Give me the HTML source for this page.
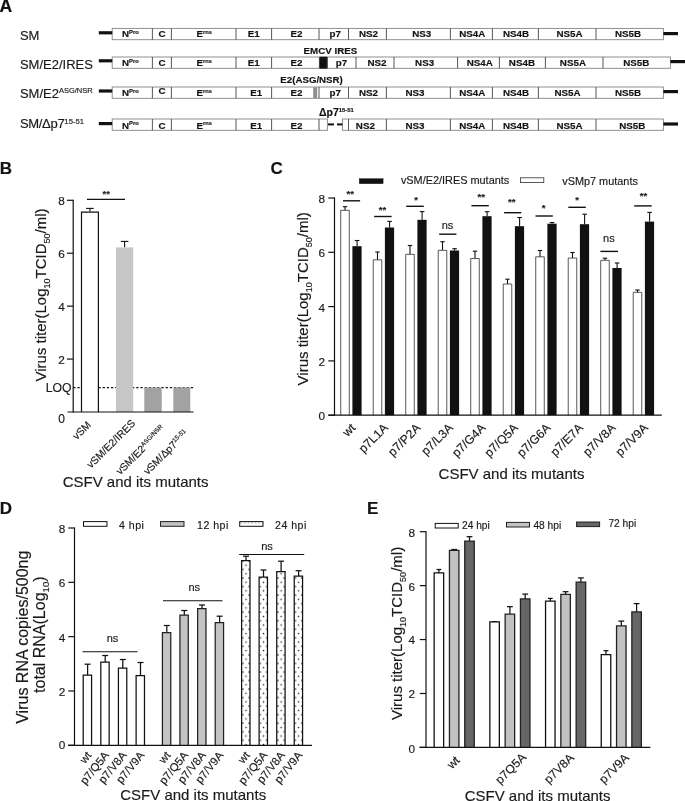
<!DOCTYPE html>
<html lang="en">
<head>
<meta charset="utf-8">
<title>CSFV p7 mutants figure</title>
<style>
html,body{margin:0;padding:0;background:#fff;}
body{width:685px;height:801px;overflow:hidden;}
svg{display:block;font-family:"Liberation Sans", Arial, Helvetica, sans-serif;}
svg text{white-space:pre;stroke:#1a1a1a;stroke-width:0.16px;}
</style>
</head>
<body>
<svg width="685" height="801" viewBox="0 0 685 801">
<rect x="0" y="0" width="685" height="801" fill="#ffffff"/>
<text x="-0.5" y="12.1" font-size="17.6" text-anchor="start" font-weight="bold" fill="#111" >A</text>
<text x="19.9" y="39.9" font-size="13" text-anchor="start" font-weight="normal" fill="#1a1a1a" >SM</text>
<text x="19.9" y="68.9" font-size="13" text-anchor="start" font-weight="normal" fill="#1a1a1a" >SM/E2/IRES</text>
<text x="19.9" y="98" font-size="13" text-anchor="start" font-weight="normal" fill="#1a1a1a" >SM/E2<tspan font-size="7.5" dy="-5">ASG/NSR</tspan><tspan dy="5">&#8203;</tspan></text>
<text x="19.9" y="128.4" font-size="13" text-anchor="start" font-weight="normal" fill="#1a1a1a" ><tspan letter-spacing="-0.3">SM/&#916;p7</tspan><tspan font-size="7.7" dy="-4.6">15-51</tspan><tspan dy="4.6">&#8203;</tspan></text>
<rect x="112.2" y="28.4" width="551.2" height="11.3" fill="#fff" stroke="#848484" stroke-width="0.9" />
<line x1="152.4" y1="28.4" x2="152.4" y2="39.7" stroke="#444" stroke-width="0.9" />
<line x1="171.4" y1="28.4" x2="171.4" y2="39.7" stroke="#444" stroke-width="0.9" />
<line x1="236" y1="28.4" x2="236" y2="39.7" stroke="#444" stroke-width="0.9" />
<line x1="271.6" y1="28.4" x2="271.6" y2="39.7" stroke="#444" stroke-width="0.9" />
<line x1="319" y1="28.4" x2="319" y2="39.7" stroke="#444" stroke-width="0.9" />
<line x1="348.5" y1="28.4" x2="348.5" y2="39.7" stroke="#444" stroke-width="0.9" />
<line x1="386.4" y1="28.4" x2="386.4" y2="39.7" stroke="#444" stroke-width="0.9" />
<line x1="450.4" y1="28.4" x2="450.4" y2="39.7" stroke="#444" stroke-width="0.9" />
<line x1="492.4" y1="28.4" x2="492.4" y2="39.7" stroke="#444" stroke-width="0.9" />
<line x1="538.4" y1="28.4" x2="538.4" y2="39.7" stroke="#444" stroke-width="0.9" />
<line x1="596" y1="28.4" x2="596" y2="39.7" stroke="#444" stroke-width="0.9" />
<text x="130.4" y="36.9" font-size="9.8" text-anchor="middle" font-weight="bold" fill="#111" stroke="#111" stroke-width="0.22">N<tspan font-size="5.8" dy="-3.3">Pro</tspan><tspan dy="3.3">&#8203;</tspan></text>
<text x="162" y="36.9" font-size="9.8" text-anchor="middle" font-weight="bold" fill="#111" stroke="#111" stroke-width="0.22">C</text>
<text x="204.2" y="36.9" font-size="9.8" text-anchor="middle" font-weight="bold" fill="#111" stroke="#111" stroke-width="0.22">E<tspan font-size="5.8" dy="-3.3">rns</tspan><tspan dy="3.3">&#8203;</tspan></text>
<text x="253.7" y="36.9" font-size="9.8" text-anchor="middle" font-weight="bold" fill="#111" stroke="#111" stroke-width="0.22">E1</text>
<text x="296.5" y="36.9" font-size="9.8" text-anchor="middle" font-weight="bold" fill="#111" stroke="#111" stroke-width="0.22">E2</text>
<text x="335.2" y="36.9" font-size="9.8" text-anchor="middle" font-weight="bold" fill="#111" stroke="#111" stroke-width="0.22">p7</text>
<text x="368.5" y="36.9" font-size="9.8" text-anchor="middle" font-weight="bold" fill="#111" stroke="#111" stroke-width="0.22">NS2</text>
<text x="421.7" y="36.9" font-size="9.8" text-anchor="middle" font-weight="bold" fill="#111" stroke="#111" stroke-width="0.22">NS3</text>
<text x="472.3" y="36.9" font-size="9.8" text-anchor="middle" font-weight="bold" fill="#111" stroke="#111" stroke-width="0.22">NS4A</text>
<text x="516" y="36.9" font-size="9.8" text-anchor="middle" font-weight="bold" fill="#111" stroke="#111" stroke-width="0.22">NS4B</text>
<text x="569.5" y="36.9" font-size="9.8" text-anchor="middle" font-weight="bold" fill="#111" stroke="#111" stroke-width="0.22">NS5A</text>
<text x="628" y="36.9" font-size="9.8" text-anchor="middle" font-weight="bold" fill="#111" stroke="#111" stroke-width="0.22">NS5B</text>
<line x1="98.8" y1="32.8" x2="112.2" y2="32.8" stroke="#111" stroke-width="3.2" />
<line x1="663.4" y1="33.6" x2="678" y2="33.6" stroke="#111" stroke-width="3.2" />
<rect x="112.2" y="57" width="558.2" height="11.3" fill="#fff" stroke="#848484" stroke-width="0.9" />
<line x1="152.4" y1="57" x2="152.4" y2="68.3" stroke="#444" stroke-width="0.9" />
<line x1="171.4" y1="57" x2="171.4" y2="68.3" stroke="#444" stroke-width="0.9" />
<line x1="236" y1="57" x2="236" y2="68.3" stroke="#444" stroke-width="0.9" />
<line x1="271.6" y1="57" x2="271.6" y2="68.3" stroke="#444" stroke-width="0.9" />
<line x1="319.4" y1="57" x2="319.4" y2="68.3" stroke="#444" stroke-width="0.9" />
<line x1="327.4" y1="57" x2="327.4" y2="68.3" stroke="#444" stroke-width="0.9" />
<line x1="356" y1="57" x2="356" y2="68.3" stroke="#444" stroke-width="0.9" />
<line x1="394" y1="57" x2="394" y2="68.3" stroke="#444" stroke-width="0.9" />
<line x1="457.6" y1="57" x2="457.6" y2="68.3" stroke="#444" stroke-width="0.9" />
<line x1="499.4" y1="57" x2="499.4" y2="68.3" stroke="#444" stroke-width="0.9" />
<line x1="545.4" y1="57" x2="545.4" y2="68.3" stroke="#444" stroke-width="0.9" />
<line x1="603" y1="57" x2="603" y2="68.3" stroke="#444" stroke-width="0.9" />
<text x="130.4" y="65.9" font-size="9.8" text-anchor="middle" font-weight="bold" fill="#111" stroke="#111" stroke-width="0.22">N<tspan font-size="5.8" dy="-3.3">Pro</tspan><tspan dy="3.3">&#8203;</tspan></text>
<text x="162" y="65.9" font-size="9.8" text-anchor="middle" font-weight="bold" fill="#111" stroke="#111" stroke-width="0.22">C</text>
<text x="204.2" y="65.9" font-size="9.8" text-anchor="middle" font-weight="bold" fill="#111" stroke="#111" stroke-width="0.22">E<tspan font-size="5.8" dy="-3.3">rns</tspan><tspan dy="3.3">&#8203;</tspan></text>
<text x="253.7" y="65.9" font-size="9.8" text-anchor="middle" font-weight="bold" fill="#111" stroke="#111" stroke-width="0.22">E1</text>
<text x="296.5" y="65.9" font-size="9.8" text-anchor="middle" font-weight="bold" fill="#111" stroke="#111" stroke-width="0.22">E2</text>
<text x="341.5" y="65.9" font-size="9.8" text-anchor="middle" font-weight="bold" fill="#111" stroke="#111" stroke-width="0.22">p7</text>
<text x="377" y="65.9" font-size="9.8" text-anchor="middle" font-weight="bold" fill="#111" stroke="#111" stroke-width="0.22">NS2</text>
<text x="424.6" y="65.9" font-size="9.8" text-anchor="middle" font-weight="bold" fill="#111" stroke="#111" stroke-width="0.22">NS3</text>
<text x="479.7" y="65.9" font-size="9.8" text-anchor="middle" font-weight="bold" fill="#111" stroke="#111" stroke-width="0.22">NS4A</text>
<text x="521.9" y="65.9" font-size="9.8" text-anchor="middle" font-weight="bold" fill="#111" stroke="#111" stroke-width="0.22">NS4B</text>
<text x="572.9" y="65.9" font-size="9.8" text-anchor="middle" font-weight="bold" fill="#111" stroke="#111" stroke-width="0.22">NS5A</text>
<text x="636.3" y="65.9" font-size="9.8" text-anchor="middle" font-weight="bold" fill="#111" stroke="#111" stroke-width="0.22">NS5B</text>
<line x1="98.8" y1="60.8" x2="112.2" y2="60.8" stroke="#111" stroke-width="3.2" />
<line x1="670.4" y1="61.6" x2="685" y2="61.6" stroke="#111" stroke-width="3.2" />
<rect x="319.9" y="57" width="7" height="11.3" fill="#111" stroke="#111" stroke-width="0.5" />
<text x="330.4" y="53.6" font-size="9.75" text-anchor="middle" font-weight="bold" fill="#111" stroke="#111" stroke-width="0.22">EMCV IRES</text>
<rect x="112.2" y="87" width="551.2" height="11.3" fill="#fff" stroke="#848484" stroke-width="0.9" />
<line x1="152.4" y1="87" x2="152.4" y2="98.3" stroke="#444" stroke-width="0.9" />
<line x1="171.4" y1="87" x2="171.4" y2="98.3" stroke="#444" stroke-width="0.9" />
<line x1="236" y1="87" x2="236" y2="98.3" stroke="#444" stroke-width="0.9" />
<line x1="271.6" y1="87" x2="271.6" y2="98.3" stroke="#444" stroke-width="0.9" />
<line x1="319" y1="87" x2="319" y2="98.3" stroke="#444" stroke-width="0.9" />
<line x1="348.5" y1="87" x2="348.5" y2="98.3" stroke="#444" stroke-width="0.9" />
<line x1="386.4" y1="87" x2="386.4" y2="98.3" stroke="#444" stroke-width="0.9" />
<line x1="450.4" y1="87" x2="450.4" y2="98.3" stroke="#444" stroke-width="0.9" />
<line x1="492.4" y1="87" x2="492.4" y2="98.3" stroke="#444" stroke-width="0.9" />
<line x1="538.4" y1="87" x2="538.4" y2="98.3" stroke="#444" stroke-width="0.9" />
<line x1="596" y1="87" x2="596" y2="98.3" stroke="#444" stroke-width="0.9" />
<text x="130.4" y="95.9" font-size="9.8" text-anchor="middle" font-weight="bold" fill="#111" stroke="#111" stroke-width="0.22">N<tspan font-size="5.8" dy="-3.3">Pro</tspan><tspan dy="3.3">&#8203;</tspan></text>
<text x="162" y="93.9" font-size="9.8" text-anchor="middle" font-weight="bold" fill="#111" stroke="#111" stroke-width="0.22">C</text>
<text x="204.2" y="95.9" font-size="9.8" text-anchor="middle" font-weight="bold" fill="#111" stroke="#111" stroke-width="0.22">E<tspan font-size="5.8" dy="-3.3">rns</tspan><tspan dy="3.3">&#8203;</tspan></text>
<text x="256.2" y="95.9" font-size="9.8" text-anchor="middle" font-weight="bold" fill="#111" stroke="#111" stroke-width="0.22">E1</text>
<text x="296.5" y="95.9" font-size="9.8" text-anchor="middle" font-weight="bold" fill="#111" stroke="#111" stroke-width="0.22">E2</text>
<text x="335.2" y="95.9" font-size="9.8" text-anchor="middle" font-weight="bold" fill="#111" stroke="#111" stroke-width="0.22">p7</text>
<text x="368.5" y="95.9" font-size="9.8" text-anchor="middle" font-weight="bold" fill="#111" stroke="#111" stroke-width="0.22">NS2</text>
<text x="415" y="95.9" font-size="9.8" text-anchor="middle" font-weight="bold" fill="#111" stroke="#111" stroke-width="0.22">NS3</text>
<text x="472.3" y="95.9" font-size="9.8" text-anchor="middle" font-weight="bold" fill="#111" stroke="#111" stroke-width="0.22">NS4A</text>
<text x="516" y="95.9" font-size="9.8" text-anchor="middle" font-weight="bold" fill="#111" stroke="#111" stroke-width="0.22">NS4B</text>
<text x="567.5" y="95.9" font-size="9.8" text-anchor="middle" font-weight="bold" fill="#111" stroke="#111" stroke-width="0.22">NS5A</text>
<text x="628" y="95.9" font-size="9.8" text-anchor="middle" font-weight="bold" fill="#111" stroke="#111" stroke-width="0.22">NS5B</text>
<line x1="98.8" y1="91" x2="112.2" y2="91" stroke="#111" stroke-width="3.2" />
<line x1="663.4" y1="91.6" x2="678" y2="91.6" stroke="#111" stroke-width="3.2" />
<rect x="313.2" y="87.3" width="4" height="10.7" fill="#8e8e8e" stroke="none" stroke-width="0" />
<text x="311.6" y="82.9" font-size="9.7" text-anchor="middle" font-weight="bold" fill="#111" stroke="#111" stroke-width="0.22">E2(ASG/NSR)</text>
<rect x="112.2" y="119" width="215.2" height="11.3" fill="#fff" stroke="#848484" stroke-width="0.9" />
<line x1="152.4" y1="119" x2="152.4" y2="130.3" stroke="#444" stroke-width="0.9" />
<line x1="171.4" y1="119" x2="171.4" y2="130.3" stroke="#444" stroke-width="0.9" />
<line x1="236" y1="119" x2="236" y2="130.3" stroke="#444" stroke-width="0.9" />
<line x1="271.6" y1="119" x2="271.6" y2="130.3" stroke="#444" stroke-width="0.9" />
<line x1="319" y1="119" x2="319" y2="130.3" stroke="#444" stroke-width="0.9" />
<rect x="342.4" y="119" width="321" height="11.3" fill="#fff" stroke="#848484" stroke-width="0.9" />
<line x1="348.5" y1="119" x2="348.5" y2="130.3" stroke="#444" stroke-width="0.9" />
<line x1="386.4" y1="119" x2="386.4" y2="130.3" stroke="#444" stroke-width="0.9" />
<line x1="450.4" y1="119" x2="450.4" y2="130.3" stroke="#444" stroke-width="0.9" />
<line x1="492.4" y1="119" x2="492.4" y2="130.3" stroke="#444" stroke-width="0.9" />
<line x1="538.4" y1="119" x2="538.4" y2="130.3" stroke="#444" stroke-width="0.9" />
<line x1="596" y1="119" x2="596" y2="130.3" stroke="#444" stroke-width="0.9" />
<text x="130.4" y="128.5" font-size="9.8" text-anchor="middle" font-weight="bold" fill="#111" stroke="#111" stroke-width="0.22">N<tspan font-size="5.8" dy="-3.3">Pro</tspan><tspan dy="3.3">&#8203;</tspan></text>
<text x="162" y="128.5" font-size="9.8" text-anchor="middle" font-weight="bold" fill="#111" stroke="#111" stroke-width="0.22">C</text>
<text x="204.2" y="128.5" font-size="9.8" text-anchor="middle" font-weight="bold" fill="#111" stroke="#111" stroke-width="0.22">E<tspan font-size="5.8" dy="-3.3">rns</tspan><tspan dy="3.3">&#8203;</tspan></text>
<text x="256.2" y="128.5" font-size="9.8" text-anchor="middle" font-weight="bold" fill="#111" stroke="#111" stroke-width="0.22">E1</text>
<text x="296.5" y="128.5" font-size="9.8" text-anchor="middle" font-weight="bold" fill="#111" stroke="#111" stroke-width="0.22">E2</text>
<text x="365.4" y="128.5" font-size="9.8" text-anchor="middle" font-weight="bold" fill="#111" stroke="#111" stroke-width="0.22">NS2</text>
<text x="415" y="128.5" font-size="9.8" text-anchor="middle" font-weight="bold" fill="#111" stroke="#111" stroke-width="0.22">NS3</text>
<text x="472.3" y="128.5" font-size="9.8" text-anchor="middle" font-weight="bold" fill="#111" stroke="#111" stroke-width="0.22">NS4A</text>
<text x="516" y="128.5" font-size="9.8" text-anchor="middle" font-weight="bold" fill="#111" stroke="#111" stroke-width="0.22">NS4B</text>
<text x="569.5" y="128.5" font-size="9.8" text-anchor="middle" font-weight="bold" fill="#111" stroke="#111" stroke-width="0.22">NS5A</text>
<text x="632.3" y="128.5" font-size="9.8" text-anchor="middle" font-weight="bold" fill="#111" stroke="#111" stroke-width="0.22">NS5B</text>
<line x1="98.8" y1="123.6" x2="112.2" y2="123.6" stroke="#111" stroke-width="3.2" />
<line x1="663.4" y1="124" x2="678" y2="124" stroke="#111" stroke-width="3.2" />
<line x1="328" y1="124.4" x2="334" y2="124.4" stroke="#111" stroke-width="2" />
<line x1="337" y1="124.4" x2="342.4" y2="124.4" stroke="#111" stroke-width="2" />
<text x="319" y="115.7" font-size="10.5" text-anchor="start" font-weight="bold" fill="#111" stroke="#111" stroke-width="0.22">&#916;p7<tspan font-size="5.9" dy="-3.7">15-51</tspan><tspan dy="3.7">&#8203;</tspan></text>
<text x="-0.3" y="174" font-size="17" text-anchor="start" font-weight="bold" fill="#111" >B</text>
<line x1="73.2" y1="387.6" x2="194" y2="387.6" stroke="#111" stroke-width="1.1" stroke-dasharray="2.3 1.9"/>
<line x1="89.95" y1="211.5" x2="89.95" y2="208.4" stroke="#111" stroke-width="1.1" />
<line x1="86.15" y1="208.4" x2="93.75" y2="208.4" stroke="#111" stroke-width="1.1" />
<rect x="81.5" y="212.1" width="16.9" height="199.9" fill="#fff" stroke="none" stroke-width="0" />
<path d="M81.5 412V212.1H98.4V412" fill="none" stroke="#111" stroke-width="1.2"/>
<line x1="124.6" y1="247.4" x2="124.6" y2="241.4" stroke="#111" stroke-width="1.1" />
<line x1="120.8" y1="241.4" x2="128.4" y2="241.4" stroke="#111" stroke-width="1.1" />
<rect x="116" y="247.4" width="17.2" height="164.6" fill="#c6c6c6" stroke="none" stroke-width="0" />
<rect x="144.3" y="387.4" width="17.4" height="24.6" fill="#a2a2a2" stroke="none" stroke-width="0" />
<rect x="173.3" y="387.4" width="17" height="24.6" fill="#a2a2a2" stroke="none" stroke-width="0" />
<line x1="67.5" y1="412" x2="193.6" y2="412" stroke="#111" stroke-width="1.2" />
<line x1="73.2" y1="199.7" x2="73.2" y2="412.6" stroke="#111" stroke-width="1.2" />
<line x1="67" y1="359.07" x2="73.2" y2="359.07" stroke="#111" stroke-width="1.2" />
<text x="64.9" y="363.97" font-size="11.8" text-anchor="end" font-weight="normal" fill="#1a1a1a" >2</text>
<line x1="67" y1="306.15" x2="73.2" y2="306.15" stroke="#111" stroke-width="1.2" />
<text x="64.9" y="311.05" font-size="11.8" text-anchor="end" font-weight="normal" fill="#1a1a1a" >4</text>
<line x1="67" y1="253.23" x2="73.2" y2="253.23" stroke="#111" stroke-width="1.2" />
<text x="64.9" y="258.12" font-size="11.8" text-anchor="end" font-weight="normal" fill="#1a1a1a" >6</text>
<line x1="67" y1="200.3" x2="73.2" y2="200.3" stroke="#111" stroke-width="1.2" />
<text x="64.9" y="205.2" font-size="11.8" text-anchor="end" font-weight="normal" fill="#1a1a1a" >8</text>
<text x="64.9" y="422.8" font-size="12" text-anchor="end" font-weight="normal" fill="#1a1a1a" >0</text>
<text x="71.4" y="392" font-size="12.2" text-anchor="end" font-weight="normal" fill="#1a1a1a" >LOQ</text>
<text x="45.8" y="381.6" font-size="15" text-anchor="start" font-weight="normal" fill="#1a1a1a" transform="rotate(-90 45.8 381.6)" >Virus titer(Log<tspan font-size="9" dy="4">10</tspan><tspan dy="-4">&#8203;</tspan>TCID<tspan font-size="9" dy="4">50</tspan><tspan dy="-4">&#8203;</tspan>/ml)</text>
<line x1="87" y1="199.4" x2="125" y2="199.4" stroke="#111" stroke-width="1.1" />
<text x="106.2" y="196.6" font-size="9.4" text-anchor="middle" font-weight="bold" fill="#1a1a1a" >**</text>
<text x="91.5" y="425.6" font-size="10.4" text-anchor="end" font-weight="normal" fill="#1a1a1a" transform="rotate(-45 91.5 425.6)" >vSM</text>
<text x="136" y="423.9" font-size="10.4" text-anchor="end" font-weight="normal" fill="#1a1a1a" transform="rotate(-45 136 423.9)" >vSM/E2/IRES</text>
<text x="166" y="429.6" font-size="10.4" text-anchor="end" font-weight="normal" fill="#1a1a1a" transform="rotate(-45 166 429.6)" >vSM/E2<tspan font-size="6.3" dy="-3.8">ASG/NSR</tspan><tspan dy="3.8">&#8203;</tspan></text>
<text x="188.9" y="434.1" font-size="10.4" text-anchor="end" font-weight="normal" fill="#1a1a1a" transform="rotate(-45 188.9 434.1)" >vSM/&#916;p7<tspan font-size="6.3" dy="-3.8">15-51</tspan><tspan dy="3.8">&#8203;</tspan></text>
<text x="135.6" y="487" font-size="15" text-anchor="middle" font-weight="normal" fill="#1a1a1a" >CSFV and its mutants</text>
<text x="270.6" y="174" font-size="17" text-anchor="start" font-weight="bold" fill="#111" >C</text>
<rect x="359.3" y="178.7" width="23.8" height="5" fill="#111" stroke="#111" stroke-width="0.4" />
<text x="400.9" y="184.2" font-size="10.9" text-anchor="start" font-weight="normal" fill="#1a1a1a" >vSM/E2/IRES mutants</text>
<rect x="520.6" y="177.8" width="23.2" height="4.8" fill="#fff" stroke="#333" stroke-width="0.8" />
<text x="562.2" y="185" font-size="10.9" text-anchor="start" font-weight="normal" fill="#1a1a1a" >vSMp7 mutants</text>
<line x1="345" y1="210.5" x2="345" y2="206.7" stroke="#111" stroke-width="1.1" />
<line x1="342.8" y1="206.7" x2="347.2" y2="206.7" stroke="#111" stroke-width="1.1" />
<line x1="357.1" y1="246.2" x2="357.1" y2="240.5" stroke="#111" stroke-width="1.1" />
<line x1="354.8" y1="240.5" x2="359.4" y2="240.5" stroke="#111" stroke-width="1.1" />
<rect x="340.73" y="210.33" width="8.55" height="204.87" fill="#fff" stroke="none" stroke-width="0" />
<path d="M340.73 415.2V210.33H349.27V415.2" fill="none" stroke="#3a3a3a" stroke-width="0.85"/>
<rect x="352.4" y="246.2" width="9.2" height="169" fill="#111" stroke="none" stroke-width="0" />
<line x1="343" y1="200.8" x2="360.1" y2="200.8" stroke="#111" stroke-width="1.4" />
<text x="350.3" y="196.6" font-size="9.6" text-anchor="middle" font-weight="bold" fill="#1a1a1a" >**</text>
<text x="356.2" y="428.6" font-size="12.2" text-anchor="end" font-weight="normal" fill="#1a1a1a" transform="rotate(-45 356.2 428.6)" >wt</text>
<line x1="377.5" y1="260" x2="377.5" y2="252" stroke="#111" stroke-width="1.1" />
<line x1="375.3" y1="252" x2="379.7" y2="252" stroke="#111" stroke-width="1.1" />
<line x1="389.6" y1="227.5" x2="389.6" y2="221.4" stroke="#111" stroke-width="1.1" />
<line x1="387.3" y1="221.4" x2="391.9" y2="221.4" stroke="#111" stroke-width="1.1" />
<rect x="373.23" y="259.82" width="8.55" height="155.38" fill="#fff" stroke="none" stroke-width="0" />
<path d="M373.23 415.2V259.82H381.77V415.2" fill="none" stroke="#3a3a3a" stroke-width="0.85"/>
<rect x="384.9" y="227.5" width="9.2" height="187.7" fill="#111" stroke="none" stroke-width="0" />
<line x1="374.1" y1="216.5" x2="391.6" y2="216.5" stroke="#111" stroke-width="1.4" />
<text x="382.4" y="213.4" font-size="9.6" text-anchor="middle" font-weight="bold" fill="#1a1a1a" >**</text>
<text x="388.7" y="428.6" font-size="12.2" text-anchor="end" font-weight="normal" fill="#1a1a1a" transform="rotate(-45 388.7 428.6)" >p7L1A</text>
<line x1="410" y1="254.5" x2="410" y2="245.5" stroke="#111" stroke-width="1.1" />
<line x1="407.8" y1="245.5" x2="412.2" y2="245.5" stroke="#111" stroke-width="1.1" />
<line x1="422.1" y1="219.8" x2="422.1" y2="211.6" stroke="#111" stroke-width="1.1" />
<line x1="419.8" y1="211.6" x2="424.4" y2="211.6" stroke="#111" stroke-width="1.1" />
<rect x="405.73" y="254.33" width="8.55" height="160.87" fill="#fff" stroke="none" stroke-width="0" />
<path d="M405.73 415.2V254.33H414.27V415.2" fill="none" stroke="#3a3a3a" stroke-width="0.85"/>
<rect x="417.4" y="219.8" width="9.2" height="195.4" fill="#111" stroke="none" stroke-width="0" />
<line x1="406.2" y1="206.3" x2="423.8" y2="206.3" stroke="#111" stroke-width="1.4" />
<text x="416" y="202.5" font-size="9.6" text-anchor="middle" font-weight="bold" fill="#1a1a1a" >*</text>
<text x="421.2" y="428.6" font-size="12.2" text-anchor="end" font-weight="normal" fill="#1a1a1a" transform="rotate(-45 421.2 428.6)" >p7/P2A</text>
<line x1="442.5" y1="250.5" x2="442.5" y2="241.7" stroke="#111" stroke-width="1.1" />
<line x1="440.3" y1="241.7" x2="444.7" y2="241.7" stroke="#111" stroke-width="1.1" />
<line x1="454.6" y1="250.5" x2="454.6" y2="248.7" stroke="#111" stroke-width="1.1" />
<line x1="452.3" y1="248.7" x2="456.9" y2="248.7" stroke="#111" stroke-width="1.1" />
<rect x="438.23" y="250.33" width="8.55" height="164.87" fill="#fff" stroke="none" stroke-width="0" />
<path d="M438.23 415.2V250.33H446.77V415.2" fill="none" stroke="#3a3a3a" stroke-width="0.85"/>
<rect x="449.9" y="250.5" width="9.2" height="164.7" fill="#111" stroke="none" stroke-width="0" />
<line x1="439.2" y1="234.2" x2="456.4" y2="234.2" stroke="#111" stroke-width="1.4" />
<text x="447.5" y="229.2" font-size="11" text-anchor="middle" font-weight="normal" fill="#1a1a1a" >ns</text>
<text x="453.7" y="428.6" font-size="12.2" text-anchor="end" font-weight="normal" fill="#1a1a1a" transform="rotate(-45 453.7 428.6)" >p7/L3A</text>
<line x1="475" y1="258.7" x2="475" y2="251.2" stroke="#111" stroke-width="1.1" />
<line x1="472.8" y1="251.2" x2="477.2" y2="251.2" stroke="#111" stroke-width="1.1" />
<line x1="487.1" y1="216.2" x2="487.1" y2="211.7" stroke="#111" stroke-width="1.1" />
<line x1="484.8" y1="211.7" x2="489.4" y2="211.7" stroke="#111" stroke-width="1.1" />
<rect x="470.73" y="258.52" width="8.55" height="156.68" fill="#fff" stroke="none" stroke-width="0" />
<path d="M470.73 415.2V258.52H479.27V415.2" fill="none" stroke="#3a3a3a" stroke-width="0.85"/>
<rect x="482.4" y="216.2" width="9.2" height="199" fill="#111" stroke="none" stroke-width="0" />
<line x1="471.4" y1="205.7" x2="488.8" y2="205.7" stroke="#111" stroke-width="1.4" />
<text x="481.2" y="200" font-size="9.6" text-anchor="middle" font-weight="bold" fill="#1a1a1a" >**</text>
<text x="486.2" y="428.6" font-size="12.2" text-anchor="end" font-weight="normal" fill="#1a1a1a" transform="rotate(-45 486.2 428.6)" >p7/G4A</text>
<line x1="507.5" y1="284.2" x2="507.5" y2="279.2" stroke="#111" stroke-width="1.1" />
<line x1="505.3" y1="279.2" x2="509.7" y2="279.2" stroke="#111" stroke-width="1.1" />
<line x1="519.6" y1="226.2" x2="519.6" y2="217.5" stroke="#111" stroke-width="1.1" />
<line x1="517.3" y1="217.5" x2="521.9" y2="217.5" stroke="#111" stroke-width="1.1" />
<rect x="503.23" y="284.02" width="8.55" height="131.18" fill="#fff" stroke="none" stroke-width="0" />
<path d="M503.23 415.2V284.02H511.78V415.2" fill="none" stroke="#3a3a3a" stroke-width="0.85"/>
<rect x="514.9" y="226.2" width="9.2" height="189" fill="#111" stroke="none" stroke-width="0" />
<line x1="504.1" y1="212.7" x2="521.3" y2="212.7" stroke="#111" stroke-width="1.4" />
<text x="511.8" y="205.1" font-size="9.6" text-anchor="middle" font-weight="bold" fill="#1a1a1a" >**</text>
<text x="518.7" y="428.6" font-size="12.2" text-anchor="end" font-weight="normal" fill="#1a1a1a" transform="rotate(-45 518.7 428.6)" >p7/Q5A</text>
<line x1="540" y1="257" x2="540" y2="250.5" stroke="#111" stroke-width="1.1" />
<line x1="537.8" y1="250.5" x2="542.2" y2="250.5" stroke="#111" stroke-width="1.1" />
<line x1="552.1" y1="223.7" x2="552.1" y2="222.5" stroke="#111" stroke-width="1.1" />
<line x1="549.8" y1="222.5" x2="554.4" y2="222.5" stroke="#111" stroke-width="1.1" />
<rect x="535.72" y="256.82" width="8.55" height="158.38" fill="#fff" stroke="none" stroke-width="0" />
<path d="M535.72 415.2V256.82H544.27V415.2" fill="none" stroke="#3a3a3a" stroke-width="0.85"/>
<rect x="547.4" y="223.7" width="9.2" height="191.5" fill="#111" stroke="none" stroke-width="0" />
<line x1="535.5" y1="216" x2="552.8" y2="216" stroke="#111" stroke-width="1.4" />
<text x="543.5" y="210.8" font-size="9.6" text-anchor="middle" font-weight="bold" fill="#1a1a1a" >*</text>
<text x="551.2" y="428.6" font-size="12.2" text-anchor="end" font-weight="normal" fill="#1a1a1a" transform="rotate(-45 551.2 428.6)" >p7/G6A</text>
<line x1="572.5" y1="258.2" x2="572.5" y2="252.5" stroke="#111" stroke-width="1.1" />
<line x1="570.3" y1="252.5" x2="574.7" y2="252.5" stroke="#111" stroke-width="1.1" />
<line x1="584.6" y1="224.2" x2="584.6" y2="214.2" stroke="#111" stroke-width="1.1" />
<line x1="582.3" y1="214.2" x2="586.9" y2="214.2" stroke="#111" stroke-width="1.1" />
<rect x="568.22" y="258.02" width="8.55" height="157.18" fill="#fff" stroke="none" stroke-width="0" />
<path d="M568.22 415.2V258.02H576.77V415.2" fill="none" stroke="#3a3a3a" stroke-width="0.85"/>
<rect x="579.9" y="224.2" width="9.2" height="191" fill="#111" stroke="none" stroke-width="0" />
<line x1="568.3" y1="207.3" x2="585.8" y2="207.3" stroke="#111" stroke-width="1.4" />
<text x="577.1" y="203.2" font-size="9.6" text-anchor="middle" font-weight="bold" fill="#1a1a1a" >*</text>
<text x="583.7" y="428.6" font-size="12.2" text-anchor="end" font-weight="normal" fill="#1a1a1a" transform="rotate(-45 583.7 428.6)" >p7/E7A</text>
<line x1="605" y1="260.5" x2="605" y2="258.2" stroke="#111" stroke-width="1.1" />
<line x1="602.8" y1="258.2" x2="607.2" y2="258.2" stroke="#111" stroke-width="1.1" />
<line x1="617.1" y1="268" x2="617.1" y2="263" stroke="#111" stroke-width="1.1" />
<line x1="614.8" y1="263" x2="619.4" y2="263" stroke="#111" stroke-width="1.1" />
<rect x="600.72" y="260.32" width="8.55" height="154.88" fill="#fff" stroke="none" stroke-width="0" />
<path d="M600.72 415.2V260.32H609.27V415.2" fill="none" stroke="#3a3a3a" stroke-width="0.85"/>
<rect x="612.4" y="268" width="9.2" height="147.2" fill="#111" stroke="none" stroke-width="0" />
<line x1="600.4" y1="251.4" x2="618" y2="251.4" stroke="#111" stroke-width="1.4" />
<text x="608.9" y="241.6" font-size="11" text-anchor="middle" font-weight="normal" fill="#1a1a1a" >ns</text>
<text x="616.2" y="428.6" font-size="12.2" text-anchor="end" font-weight="normal" fill="#1a1a1a" transform="rotate(-45 616.2 428.6)" >p7/V8A</text>
<line x1="637.5" y1="292.5" x2="637.5" y2="290" stroke="#111" stroke-width="1.1" />
<line x1="635.3" y1="290" x2="639.7" y2="290" stroke="#111" stroke-width="1.1" />
<line x1="649.6" y1="221.6" x2="649.6" y2="212.4" stroke="#111" stroke-width="1.1" />
<line x1="647.3" y1="212.4" x2="651.9" y2="212.4" stroke="#111" stroke-width="1.1" />
<rect x="633.22" y="292.32" width="8.55" height="122.88" fill="#fff" stroke="none" stroke-width="0" />
<path d="M633.22 415.2V292.32H641.77V415.2" fill="none" stroke="#3a3a3a" stroke-width="0.85"/>
<rect x="644.9" y="221.6" width="9.2" height="193.6" fill="#111" stroke="none" stroke-width="0" />
<line x1="634.2" y1="205.9" x2="651.7" y2="205.9" stroke="#111" stroke-width="1.4" />
<text x="643.5" y="199.3" font-size="9.6" text-anchor="middle" font-weight="bold" fill="#1a1a1a" >**</text>
<text x="648.7" y="428.6" font-size="12.2" text-anchor="end" font-weight="normal" fill="#1a1a1a" transform="rotate(-45 648.7 428.6)" >p7/V9A</text>
<line x1="328.4" y1="415.2" x2="661.8" y2="415.2" stroke="#111" stroke-width="1.3" />
<line x1="334.5" y1="197.4" x2="334.5" y2="415.8" stroke="#111" stroke-width="1.2" />
<line x1="328.3" y1="415.2" x2="334.5" y2="415.2" stroke="#111" stroke-width="1.2" />
<text x="325" y="419.5" font-size="11.8" text-anchor="end" font-weight="normal" fill="#1a1a1a" >0</text>
<line x1="328.3" y1="360.9" x2="334.5" y2="360.9" stroke="#111" stroke-width="1.2" />
<text x="325" y="365.8" font-size="11.8" text-anchor="end" font-weight="normal" fill="#1a1a1a" >2</text>
<line x1="328.3" y1="306.6" x2="334.5" y2="306.6" stroke="#111" stroke-width="1.2" />
<text x="325" y="311.5" font-size="11.8" text-anchor="end" font-weight="normal" fill="#1a1a1a" >4</text>
<line x1="328.3" y1="252.3" x2="334.5" y2="252.3" stroke="#111" stroke-width="1.2" />
<text x="325" y="257.2" font-size="11.8" text-anchor="end" font-weight="normal" fill="#1a1a1a" >6</text>
<line x1="328.3" y1="198" x2="334.5" y2="198" stroke="#111" stroke-width="1.2" />
<text x="325" y="202.9" font-size="11.8" text-anchor="end" font-weight="normal" fill="#1a1a1a" >8</text>
<text x="307.7" y="385.4" font-size="15" text-anchor="start" font-weight="normal" fill="#1a1a1a" transform="rotate(-90 307.7 385.4)" >Virus titer(Log<tspan font-size="9" dy="4">10</tspan><tspan dy="-4">&#8203;</tspan>TCID<tspan font-size="9" dy="4">50</tspan><tspan dy="-4">&#8203;</tspan>/ml)</text>
<text x="511.5" y="478.9" font-size="15" text-anchor="middle" font-weight="normal" fill="#1a1a1a" >CSFV and its mutants</text>
<text x="-0.3" y="513.9" font-size="17" text-anchor="start" font-weight="bold" fill="#111" >D</text>
<defs><pattern id="dots0" x="242.9" y="560.9" width="6.2" height="8.54" patternUnits="userSpaceOnUse"><rect x="0" y="0" width="6.2" height="8.54" fill="#fff"/><circle cx="0" cy="0" r="0.8" fill="#2a2a2a"/><circle cx="6.2" cy="0" r="0.8" fill="#2a2a2a"/><circle cx="0" cy="8.54" r="0.8" fill="#2a2a2a"/><circle cx="6.2" cy="8.54" r="0.8" fill="#2a2a2a"/><circle cx="3.1" cy="4.27" r="0.8" fill="#2a2a2a"/></pattern><pattern id="dots1" x="260.4" y="560.9" width="6.2" height="8.54" patternUnits="userSpaceOnUse"><rect x="0" y="0" width="6.2" height="8.54" fill="#fff"/><circle cx="0" cy="0" r="0.8" fill="#2a2a2a"/><circle cx="6.2" cy="0" r="0.8" fill="#2a2a2a"/><circle cx="0" cy="8.54" r="0.8" fill="#2a2a2a"/><circle cx="6.2" cy="8.54" r="0.8" fill="#2a2a2a"/><circle cx="3.1" cy="4.27" r="0.8" fill="#2a2a2a"/></pattern><pattern id="dots2" x="278" y="560.9" width="6.2" height="8.54" patternUnits="userSpaceOnUse"><rect x="0" y="0" width="6.2" height="8.54" fill="#fff"/><circle cx="0" cy="0" r="0.8" fill="#2a2a2a"/><circle cx="6.2" cy="0" r="0.8" fill="#2a2a2a"/><circle cx="0" cy="8.54" r="0.8" fill="#2a2a2a"/><circle cx="6.2" cy="8.54" r="0.8" fill="#2a2a2a"/><circle cx="3.1" cy="4.27" r="0.8" fill="#2a2a2a"/></pattern><pattern id="dots3" x="295.5" y="560.9" width="6.2" height="8.54" patternUnits="userSpaceOnUse"><rect x="0" y="0" width="6.2" height="8.54" fill="#fff"/><circle cx="0" cy="0" r="0.8" fill="#2a2a2a"/><circle cx="6.2" cy="0" r="0.8" fill="#2a2a2a"/><circle cx="0" cy="8.54" r="0.8" fill="#2a2a2a"/><circle cx="6.2" cy="8.54" r="0.8" fill="#2a2a2a"/><circle cx="3.1" cy="4.27" r="0.8" fill="#2a2a2a"/></pattern><pattern id="dotsl" x="239.4" y="520.6" width="3.6" height="8" patternUnits="userSpaceOnUse"><rect width="3.6" height="8" fill="#fff"/><circle cx="1.8" cy="2" r="0.55" fill="#2a2a2a"/></pattern></defs>
<rect x="83.5" y="521.6" width="23.5" height="4.7" fill="#fff" stroke="#111" stroke-width="1" />
<text x="119" y="529" font-size="10.6" text-anchor="start" font-weight="normal" fill="#1a1a1a" letter-spacing="0.5">4 hpi</text>
<rect x="160.5" y="521.6" width="23.5" height="4.7" fill="#c2c2c2" stroke="#222" stroke-width="1" />
<text x="197" y="529" font-size="10.6" text-anchor="start" font-weight="normal" fill="#1a1a1a" letter-spacing="0.5">12 hpi</text>
<rect x="239.7" y="521.6" width="23.3" height="4.7" fill="url(#dotsl)" stroke="#111" stroke-width="1" />
<text x="275" y="529" font-size="10.6" text-anchor="start" font-weight="normal" fill="#1a1a1a" letter-spacing="0.5">24 hpi</text>
<line x1="87.6" y1="675" x2="87.6" y2="664.2" stroke="#111" stroke-width="1.25" />
<line x1="84.6" y1="664.2" x2="90.6" y2="664.2" stroke="#111" stroke-width="1.25" />
<rect x="83.22" y="675.02" width="8.35" height="70.27" fill="#fff" stroke="none" stroke-width="0" />
<path d="M83.22 745.3V675.02H91.58V745.3" fill="none" stroke="#111" stroke-width="1.25"/>
<text x="92" y="755.5" font-size="11.3" text-anchor="end" font-weight="normal" fill="#1a1a1a" transform="rotate(-51 92 755.5)" >wt</text>
<line x1="105.2" y1="662" x2="105.2" y2="655.5" stroke="#111" stroke-width="1.25" />
<line x1="102.2" y1="655.5" x2="108.2" y2="655.5" stroke="#111" stroke-width="1.25" />
<rect x="100.82" y="662.02" width="8.35" height="83.27" fill="#fff" stroke="none" stroke-width="0" />
<path d="M100.82 745.3V662.02H109.17V745.3" fill="none" stroke="#111" stroke-width="1.25"/>
<text x="109.6" y="755.5" font-size="11.3" text-anchor="end" font-weight="normal" fill="#1a1a1a" transform="rotate(-51 109.6 755.5)" >p7/Q5A</text>
<line x1="122.8" y1="668.2" x2="122.8" y2="659.5" stroke="#111" stroke-width="1.25" />
<line x1="119.8" y1="659.5" x2="125.8" y2="659.5" stroke="#111" stroke-width="1.25" />
<rect x="118.42" y="668.23" width="8.35" height="77.07" fill="#fff" stroke="none" stroke-width="0" />
<path d="M118.42 745.3V668.23H126.78V745.3" fill="none" stroke="#111" stroke-width="1.25"/>
<text x="127.2" y="755.5" font-size="11.3" text-anchor="end" font-weight="normal" fill="#1a1a1a" transform="rotate(-51 127.2 755.5)" >p7/V8A</text>
<line x1="140.5" y1="675.5" x2="140.5" y2="662.5" stroke="#111" stroke-width="1.25" />
<line x1="137.5" y1="662.5" x2="143.5" y2="662.5" stroke="#111" stroke-width="1.25" />
<rect x="136.12" y="675.52" width="8.35" height="69.77" fill="#fff" stroke="none" stroke-width="0" />
<path d="M136.12 745.3V675.52H144.47V745.3" fill="none" stroke="#111" stroke-width="1.25"/>
<text x="144.9" y="755.5" font-size="11.3" text-anchor="end" font-weight="normal" fill="#1a1a1a" transform="rotate(-51 144.9 755.5)" >p7/V9A</text>
<line x1="82.5" y1="651.7" x2="137.5" y2="651.7" stroke="#111" stroke-width="1.1" />
<text x="112.5" y="641.7" font-size="11" text-anchor="middle" font-weight="normal" fill="#1a1a1a" >ns</text>
<line x1="166.8" y1="632.5" x2="166.8" y2="625.5" stroke="#111" stroke-width="1.25" />
<line x1="163.8" y1="625.5" x2="169.8" y2="625.5" stroke="#111" stroke-width="1.25" />
<rect x="162.42" y="632.52" width="8.35" height="112.77" fill="#c4c4c4" stroke="none" stroke-width="0" />
<path d="M162.42 745.3V632.52H170.77V745.3" fill="none" stroke="#222" stroke-width="1.25"/>
<text x="171.2" y="755.5" font-size="11.3" text-anchor="end" font-weight="normal" fill="#1a1a1a" transform="rotate(-51 171.2 755.5)" >wt</text>
<line x1="184.3" y1="615" x2="184.3" y2="610.5" stroke="#111" stroke-width="1.25" />
<line x1="181.3" y1="610.5" x2="187.3" y2="610.5" stroke="#111" stroke-width="1.25" />
<rect x="179.92" y="615.02" width="8.35" height="130.27" fill="#c4c4c4" stroke="none" stroke-width="0" />
<path d="M179.92 745.3V615.02H188.27V745.3" fill="none" stroke="#222" stroke-width="1.25"/>
<text x="188.7" y="755.5" font-size="11.3" text-anchor="end" font-weight="normal" fill="#1a1a1a" transform="rotate(-51 188.7 755.5)" >p7/Q5A</text>
<line x1="202" y1="608.7" x2="202" y2="605" stroke="#111" stroke-width="1.25" />
<line x1="199" y1="605" x2="205" y2="605" stroke="#111" stroke-width="1.25" />
<rect x="197.62" y="608.73" width="8.35" height="136.57" fill="#c4c4c4" stroke="none" stroke-width="0" />
<path d="M197.62 745.3V608.73H205.97V745.3" fill="none" stroke="#222" stroke-width="1.25"/>
<text x="206.4" y="755.5" font-size="11.3" text-anchor="end" font-weight="normal" fill="#1a1a1a" transform="rotate(-51 206.4 755.5)" >p7/V8A</text>
<line x1="219.6" y1="622.5" x2="219.6" y2="616.2" stroke="#111" stroke-width="1.25" />
<line x1="216.6" y1="616.2" x2="222.6" y2="616.2" stroke="#111" stroke-width="1.25" />
<rect x="215.22" y="622.52" width="8.35" height="122.77" fill="#c4c4c4" stroke="none" stroke-width="0" />
<path d="M215.22 745.3V622.52H223.57V745.3" fill="none" stroke="#222" stroke-width="1.25"/>
<text x="224" y="755.5" font-size="11.3" text-anchor="end" font-weight="normal" fill="#1a1a1a" transform="rotate(-51 224 755.5)" >p7/V9A</text>
<line x1="163" y1="600.7" x2="222.5" y2="600.7" stroke="#111" stroke-width="1.1" />
<text x="194.2" y="590.7" font-size="11" text-anchor="middle" font-weight="normal" fill="#1a1a1a" >ns</text>
<line x1="246" y1="560.5" x2="246" y2="556.2" stroke="#111" stroke-width="1.25" />
<line x1="243" y1="556.2" x2="249" y2="556.2" stroke="#111" stroke-width="1.25" />
<rect x="241.62" y="560.52" width="8.35" height="184.77" fill="url(#dots0)" stroke="none" stroke-width="0" />
<path d="M241.62 745.3V560.52H249.97V745.3" fill="none" stroke="#111" stroke-width="1.25"/>
<text x="250.4" y="755.5" font-size="11.3" text-anchor="end" font-weight="normal" fill="#1a1a1a" transform="rotate(-51 250.4 755.5)" >wt</text>
<line x1="263.5" y1="577" x2="263.5" y2="570" stroke="#111" stroke-width="1.25" />
<line x1="260.5" y1="570" x2="266.5" y2="570" stroke="#111" stroke-width="1.25" />
<rect x="259.12" y="577.02" width="8.35" height="168.27" fill="url(#dots1)" stroke="none" stroke-width="0" />
<path d="M259.12 745.3V577.02H267.47V745.3" fill="none" stroke="#111" stroke-width="1.25"/>
<text x="267.9" y="755.5" font-size="11.3" text-anchor="end" font-weight="normal" fill="#1a1a1a" transform="rotate(-51 267.9 755.5)" >p7/Q5A</text>
<line x1="281.1" y1="571.7" x2="281.1" y2="561.2" stroke="#111" stroke-width="1.25" />
<line x1="278.1" y1="561.2" x2="284.1" y2="561.2" stroke="#111" stroke-width="1.25" />
<rect x="276.73" y="571.73" width="8.35" height="173.57" fill="url(#dots2)" stroke="none" stroke-width="0" />
<path d="M276.73 745.3V571.73H285.07V745.3" fill="none" stroke="#111" stroke-width="1.25"/>
<text x="285.5" y="755.5" font-size="11.3" text-anchor="end" font-weight="normal" fill="#1a1a1a" transform="rotate(-51 285.5 755.5)" >p7/V8A</text>
<line x1="298.6" y1="576.2" x2="298.6" y2="570.7" stroke="#111" stroke-width="1.25" />
<line x1="295.6" y1="570.7" x2="301.6" y2="570.7" stroke="#111" stroke-width="1.25" />
<rect x="294.23" y="576.23" width="8.35" height="169.07" fill="url(#dots3)" stroke="none" stroke-width="0" />
<path d="M294.23 745.3V576.23H302.57V745.3" fill="none" stroke="#111" stroke-width="1.25"/>
<text x="303" y="755.5" font-size="11.3" text-anchor="end" font-weight="normal" fill="#1a1a1a" transform="rotate(-51 303 755.5)" >p7/V9A</text>
<line x1="239.2" y1="554.5" x2="304.2" y2="554.5" stroke="#111" stroke-width="1.1" />
<text x="267" y="549.5" font-size="11" text-anchor="middle" font-weight="normal" fill="#1a1a1a" >ns</text>
<line x1="68" y1="745.3" x2="312" y2="745.3" stroke="#111" stroke-width="1.3" />
<line x1="74.5" y1="527.4" x2="74.5" y2="745.9" stroke="#111" stroke-width="1.2" />
<line x1="68.3" y1="745.3" x2="74.5" y2="745.3" stroke="#111" stroke-width="1.2" />
<text x="65.2" y="749.3" font-size="11.8" text-anchor="end" font-weight="normal" fill="#1a1a1a" >0</text>
<line x1="68.3" y1="690.97" x2="74.5" y2="690.97" stroke="#111" stroke-width="1.2" />
<text x="65.2" y="695.87" font-size="11.8" text-anchor="end" font-weight="normal" fill="#1a1a1a" >2</text>
<line x1="68.3" y1="636.65" x2="74.5" y2="636.65" stroke="#111" stroke-width="1.2" />
<text x="65.2" y="641.55" font-size="11.8" text-anchor="end" font-weight="normal" fill="#1a1a1a" >4</text>
<line x1="68.3" y1="582.33" x2="74.5" y2="582.33" stroke="#111" stroke-width="1.2" />
<text x="65.2" y="587.23" font-size="11.8" text-anchor="end" font-weight="normal" fill="#1a1a1a" >6</text>
<line x1="68.3" y1="528" x2="74.5" y2="528" stroke="#111" stroke-width="1.2" />
<text x="65.2" y="532.9" font-size="11.8" text-anchor="end" font-weight="normal" fill="#1a1a1a" >8</text>
<text x="28" y="637.2" font-size="16" text-anchor="middle" font-weight="normal" fill="#1a1a1a" transform="rotate(-90 28 637.2)" >Virus RNA copies/500ng</text>
<text x="45.5" y="634.7" font-size="16" text-anchor="middle" font-weight="normal" fill="#1a1a1a" transform="rotate(-90 45.5 634.7)" >total RNA(Log<tspan font-size="9.6" dy="4">10</tspan><tspan dy="-4">&#8203;</tspan>)</text>
<text x="193.2" y="800.2" font-size="15" text-anchor="middle" font-weight="normal" fill="#1a1a1a" >CSFV and its mutants</text>
<text x="367.1" y="513.8" font-size="17" text-anchor="start" font-weight="bold" fill="#111" >E</text>
<rect x="435.2" y="523.4" width="23" height="4.6" fill="#fff" stroke="#111" stroke-width="1" />
<text x="462" y="528.8" font-size="10.2" text-anchor="start" font-weight="normal" fill="#1a1a1a" >24 hpi</text>
<rect x="506.5" y="522.4" width="23" height="4.6" fill="#c2c2c2" stroke="#222" stroke-width="1" />
<text x="533.4" y="528.8" font-size="10.2" text-anchor="start" font-weight="normal" fill="#1a1a1a" >48 hpi</text>
<rect x="576.6" y="522" width="23" height="4.6" fill="#666" stroke="#222" stroke-width="1" />
<text x="608.4" y="527.4" font-size="10.2" text-anchor="start" font-weight="normal" fill="#1a1a1a" >72 hpi</text>
<line x1="438.9" y1="573" x2="438.9" y2="569.5" stroke="#111" stroke-width="1.25" />
<line x1="436.5" y1="569.5" x2="441.3" y2="569.5" stroke="#111" stroke-width="1.25" />
<rect x="434.15" y="572.95" width="9.5" height="174.45" fill="#fff" stroke="none" stroke-width="0" />
<path d="M434.15 747.4V572.95H443.65V747.4" fill="none" stroke="#111" stroke-width="1.3"/>
<line x1="454.2" y1="550.5" x2="454.2" y2="549.5" stroke="#111" stroke-width="1.25" />
<line x1="451.3" y1="549.5" x2="457.1" y2="549.5" stroke="#111" stroke-width="1.25" />
<rect x="449.45" y="550.45" width="9.5" height="196.95" fill="#c2c2c2" stroke="none" stroke-width="0" />
<path d="M449.45 747.4V550.45H458.95V747.4" fill="none" stroke="#222" stroke-width="1.3"/>
<line x1="469.5" y1="541.2" x2="469.5" y2="536.7" stroke="#111" stroke-width="1.25" />
<line x1="466.6" y1="536.7" x2="472.4" y2="536.7" stroke="#111" stroke-width="1.25" />
<rect x="464.75" y="541.15" width="9.5" height="206.25" fill="#666" stroke="none" stroke-width="0" />
<path d="M464.75 747.4V541.15H474.25V747.4" fill="none" stroke="#222" stroke-width="1.3"/>
<line x1="494.6" y1="622" x2="494.6" y2="621.6" stroke="#111" stroke-width="1.25" />
<line x1="492.2" y1="621.6" x2="497" y2="621.6" stroke="#111" stroke-width="1.25" />
<rect x="489.85" y="621.95" width="9.5" height="125.45" fill="#fff" stroke="none" stroke-width="0" />
<path d="M489.85 747.4V621.95H499.35V747.4" fill="none" stroke="#111" stroke-width="1.3"/>
<line x1="509.9" y1="614.2" x2="509.9" y2="606.7" stroke="#111" stroke-width="1.25" />
<line x1="507" y1="606.7" x2="512.8" y2="606.7" stroke="#111" stroke-width="1.25" />
<rect x="505.15" y="614.15" width="9.5" height="133.25" fill="#c2c2c2" stroke="none" stroke-width="0" />
<path d="M505.15 747.4V614.15H514.65V747.4" fill="none" stroke="#222" stroke-width="1.3"/>
<line x1="525.2" y1="599" x2="525.2" y2="594.1" stroke="#111" stroke-width="1.25" />
<line x1="522.3" y1="594.1" x2="528.1" y2="594.1" stroke="#111" stroke-width="1.25" />
<rect x="520.45" y="598.95" width="9.5" height="148.45" fill="#666" stroke="none" stroke-width="0" />
<path d="M520.45 747.4V598.95H529.95V747.4" fill="none" stroke="#222" stroke-width="1.3"/>
<line x1="550.3" y1="601.1" x2="550.3" y2="598.4" stroke="#111" stroke-width="1.25" />
<line x1="547.9" y1="598.4" x2="552.7" y2="598.4" stroke="#111" stroke-width="1.25" />
<rect x="545.55" y="601.05" width="9.5" height="146.35" fill="#fff" stroke="none" stroke-width="0" />
<path d="M545.55 747.4V601.05H555.05V747.4" fill="none" stroke="#111" stroke-width="1.3"/>
<line x1="565.6" y1="594.4" x2="565.6" y2="591.7" stroke="#111" stroke-width="1.25" />
<line x1="562.7" y1="591.7" x2="568.5" y2="591.7" stroke="#111" stroke-width="1.25" />
<rect x="560.85" y="594.35" width="9.5" height="153.05" fill="#c2c2c2" stroke="none" stroke-width="0" />
<path d="M560.85 747.4V594.35H570.35V747.4" fill="none" stroke="#222" stroke-width="1.3"/>
<line x1="580.9" y1="582.2" x2="580.9" y2="577.9" stroke="#111" stroke-width="1.25" />
<line x1="578" y1="577.9" x2="583.8" y2="577.9" stroke="#111" stroke-width="1.25" />
<rect x="576.15" y="582.15" width="9.5" height="165.25" fill="#666" stroke="none" stroke-width="0" />
<path d="M576.15 747.4V582.15H585.65V747.4" fill="none" stroke="#222" stroke-width="1.3"/>
<line x1="606" y1="654.7" x2="606" y2="650.7" stroke="#111" stroke-width="1.25" />
<line x1="603.6" y1="650.7" x2="608.4" y2="650.7" stroke="#111" stroke-width="1.25" />
<rect x="601.25" y="654.65" width="9.5" height="92.75" fill="#fff" stroke="none" stroke-width="0" />
<path d="M601.25 747.4V654.65H610.75V747.4" fill="none" stroke="#111" stroke-width="1.3"/>
<line x1="621.3" y1="626" x2="621.3" y2="621.1" stroke="#111" stroke-width="1.25" />
<line x1="618.4" y1="621.1" x2="624.2" y2="621.1" stroke="#111" stroke-width="1.25" />
<rect x="616.55" y="625.95" width="9.5" height="121.45" fill="#c2c2c2" stroke="none" stroke-width="0" />
<path d="M616.55 747.4V625.95H626.05V747.4" fill="none" stroke="#222" stroke-width="1.3"/>
<line x1="636.6" y1="611.9" x2="636.6" y2="603.6" stroke="#111" stroke-width="1.25" />
<line x1="633.7" y1="603.6" x2="639.5" y2="603.6" stroke="#111" stroke-width="1.25" />
<rect x="631.85" y="611.85" width="9.5" height="135.55" fill="#666" stroke="none" stroke-width="0" />
<path d="M631.85 747.4V611.85H641.35V747.4" fill="none" stroke="#222" stroke-width="1.3"/>
<text x="460.5" y="761" font-size="12.1" text-anchor="end" font-weight="normal" fill="#1a1a1a" transform="rotate(-45 460.5 761)" >wt</text>
<text x="526.9" y="758.1" font-size="12.1" text-anchor="end" font-weight="normal" fill="#1a1a1a" transform="rotate(-45 526.9 758.1)" >p7Q5A</text>
<text x="574.7" y="758.5" font-size="12.1" text-anchor="end" font-weight="normal" fill="#1a1a1a" transform="rotate(-45 574.7 758.5)" >p7V8A</text>
<text x="629.8" y="758.5" font-size="12.1" text-anchor="end" font-weight="normal" fill="#1a1a1a" transform="rotate(-45 629.8 758.5)" >p7V9A</text>
<line x1="419.4" y1="747.4" x2="650.4" y2="747.4" stroke="#111" stroke-width="1.3" />
<line x1="426" y1="531.1" x2="426" y2="748" stroke="#111" stroke-width="1.2" />
<line x1="419.8" y1="747.4" x2="426" y2="747.4" stroke="#111" stroke-width="1.2" />
<text x="415" y="752.8" font-size="11.8" text-anchor="end" font-weight="normal" fill="#1a1a1a" >0</text>
<line x1="419.8" y1="693.48" x2="426" y2="693.48" stroke="#111" stroke-width="1.2" />
<text x="415" y="698.38" font-size="11.8" text-anchor="end" font-weight="normal" fill="#1a1a1a" >2</text>
<line x1="419.8" y1="639.55" x2="426" y2="639.55" stroke="#111" stroke-width="1.2" />
<text x="415" y="644.45" font-size="11.8" text-anchor="end" font-weight="normal" fill="#1a1a1a" >4</text>
<line x1="419.8" y1="585.62" x2="426" y2="585.62" stroke="#111" stroke-width="1.2" />
<text x="415" y="590.52" font-size="11.8" text-anchor="end" font-weight="normal" fill="#1a1a1a" >6</text>
<line x1="419.8" y1="531.7" x2="426" y2="531.7" stroke="#111" stroke-width="1.2" />
<text x="415" y="536.6" font-size="11.8" text-anchor="end" font-weight="normal" fill="#1a1a1a" >8</text>
<text x="401.6" y="720" font-size="15" text-anchor="start" font-weight="normal" fill="#1a1a1a" transform="rotate(-90 401.6 720)" >Virus titer(Log<tspan font-size="9" dy="4">10</tspan><tspan dy="-4">&#8203;</tspan>TCID<tspan font-size="9" dy="4">50</tspan><tspan dy="-4">&#8203;</tspan>/ml)</text>
<text x="537.6" y="801.2" font-size="15" text-anchor="middle" font-weight="normal" fill="#1a1a1a" >CSFV and its mutants</text>
</svg>
</body>
</html>
